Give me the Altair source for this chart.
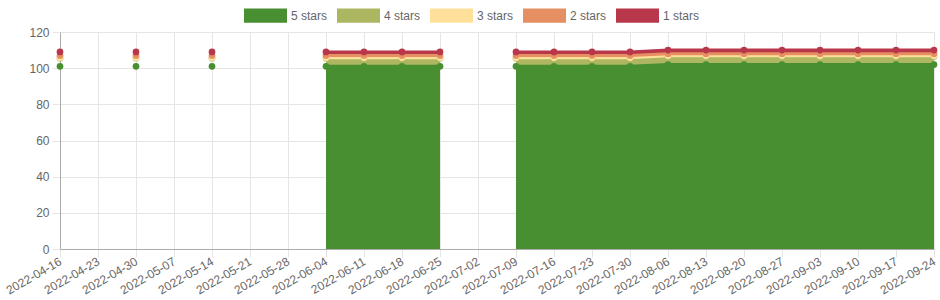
import altair as alt
import pandas as pd

dates = [
    "2022-04-16", "2022-04-23", "2022-04-30", "2022-05-07", "2022-05-14",
    "2022-05-21", "2022-05-28", "2022-06-04", "2022-06-11", "2022-06-18",
    "2022-06-25", "2022-07-02", "2022-07-09", "2022-07-16", "2022-07-23",
    "2022-07-30", "2022-08-06", "2022-08-13", "2022-08-20", "2022-08-27",
    "2022-09-03", "2022-09-10", "2022-09-17", "2022-09-24",
]
series = ["5 stars", "4 stars", "3 stars", "2 stars", "1 stars"]
colors = ["#488f31", "#adb660", "#ffe09b", "#e58f62", "#b9374a"]

N = None
stars5 = [101, N, 101, N, 101, N, N, 101, 101, 101, 101, N, 101, 101, 101, 101,
          102, 102, 102, 102, 102, 102, 102, 102]
stars4 = [4.5, N, 4.5, N, 4.5, N, N, 4.5, 4.5, 4.5, 4.5, N, 4.5, 4.5, 4.5, 4.5,
          4.5, 4.5, 4.5, 4.5, 4.5, 4.5, 4.5, 4.5]
stars3 = [0.3, N, 0.3, N, 0.3, N, N, 0.3, 0.3, 0.3, 0.3, N, 0.3, 0.3, 0.3, 0.3,
          0.3, 0.3, 0.3, 0.3, 0.3, 0.3, 0.3, 0.3]
stars2 = [1.2, N, 1.2, N, 1.2, N, N, 1.2, 1.2, 1.2, 1.2, N, 1.2, 1.2, 1.2, 1.2,
          1.2, 1.2, 1.2, 1.2, 1.2, 1.2, 1.2, 1.2]
stars1 = [2, N, 2, N, 2, N, N, 2, 2, 2, 2, N, 2, 2, 2, 2,
          2, 2, 2, 2, 2, 2, 2, 2]
values = [stars5, stars4, stars3, stars2, stars1]

rows = []
for rank, (name, vals) in enumerate(zip(series, values)):
    seg = 0
    prev_present = False
    for i, v in enumerate(vals):
        if v is None:
            prev_present = False
            continue
        if not prev_present:
            seg += 1
        prev_present = True
        rows.append({"date": dates[i], "series": name, "value": v,
                     "rank": rank, "seg": seg})
df = pd.DataFrame(rows)
segments = sorted(df["seg"].unique().tolist())

FONT = "Liberation Sans"
GRID = "#e5e5e5"

x = alt.X(
    "date:O",
    scale=alt.Scale(domain=dates, padding=0),
    title=None,
    axis=alt.Axis(
        labelAngle=-30, labelAlign="right", labelBaseline="middle",
        labelPadding=3, labelFontSize=12, labelColor="#666", labelFont=FONT,
        tickSize=8, tickColor=GRID, grid=True, gridColor=GRID,
        domainColor="#aaa", labelOverlap=False, labelBound=False,
    ),
)
y = alt.Y(
    "value:Q",
    stack="zero",
    scale=alt.Scale(domain=[0, 120], nice=False),
    title=None,
    axis=alt.Axis(
        values=[0, 20, 40, 60, 80, 100, 120], labelFontSize=12,
        labelColor="#666", labelFont=FONT, tickSize=8, tickColor=GRID,
        labelPadding=3, grid=True, gridColor=GRID, domainColor="#aaa",
    ),
)
color_scale = alt.Scale(domain=series, range=colors)
legend = alt.Legend(
    orient="none", legendX=184, legendY=-38, direction="horizontal",
    title=None, labelFontSize=12, labelColor="#666", labelFont=FONT,
    symbolType="M-1,-0.33L1,-0.33L1,0.33L-1,0.33Z", symbolSize=1849,
    symbolOpacity=1, symbolStrokeWidth=0, labelOffset=4,
    columnPadding=9, padding=0,
)

base = alt.Chart(df)
layers = []
for k, s in enumerate(segments):
    layers.append(
        base.transform_filter(alt.datum.seg == s)
        .mark_area(opacity=1, line=alt.LineConfig(strokeWidth=3))
        .encode(
            x=x, y=y,
            color=alt.Color("series:N", scale=color_scale,
                            legend=legend if k == 0 else None),
            order=alt.Order("rank:Q"),
        )
    )
pts = base.mark_circle(size=45, opacity=1).encode(
    x=x, y=y,
    color=alt.Color("series:N", scale=color_scale, legend=None),
    order=alt.Order("rank:Q"),
)
layers.append(pts)

chart = (
    alt.layer(*layers)
    .properties(
        width=874, height=217,
        autosize=alt.AutoSizeParams(type="none"),
        padding={"left": 60, "top": 32, "right": 6, "bottom": 51},
    )
    .configure_view(strokeWidth=0)
)

chart.save("out.html", embed_options={"renderer": "svg", "actions": False})
